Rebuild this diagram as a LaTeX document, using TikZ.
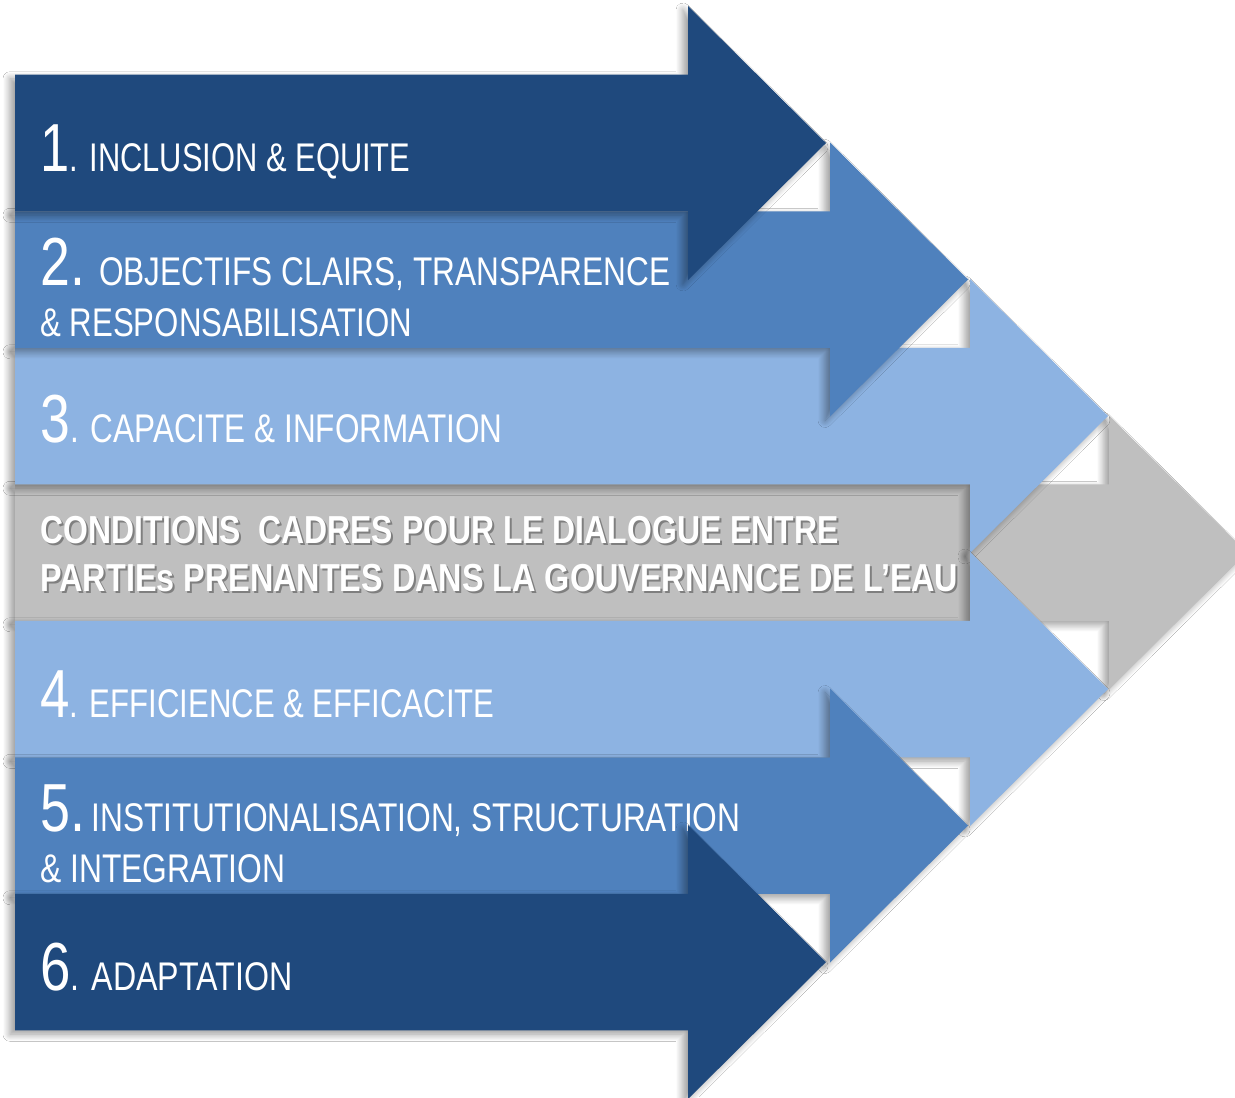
\documentclass[tikz,border=0pt]{standalone}
\usepackage{fontspec}
\usepackage{graphicx}
\setmainfont{Liberation Sans}
\usetikzlibrary{shadows.blur}
\definecolor{dblue}{HTML}{1F497D}
\definecolor{mblue}{HTML}{4F81BD}
\definecolor{lblue}{HTML}{8DB3E2}
\definecolor{gbox}{HTML}{BFBFBF}
\newsavebox\fitbox
\newcommand\fitw[2]{\sbox\fitbox{#2}\pgfmathsetmacro\fitr{#1/\the\wd\fitbox}\scalebox{\fitr}[1]{\usebox\fitbox}}
\newcommand\smf{\fontsize{20}{24}\selectfont}
\newcommand\bgf{\fontsize{34}{40}\selectfont}
\newcommand\gbf{\fontsize{19.5}{23}\selectfont\bfseries}
\newcommand\arrowshape[3]{%
  \fill[arrowbox=#1] (15,#2-68.25) -- (#3,#2-68.25) -- (#3,#2-137) -- (#3+138,#2) -- (#3,#2+137) -- (#3,#2+68.25) -- (15,#2+68.25) -- cycle;}
\begin{document}
\begin{tikzpicture}[x=0.5pt,y=-0.5pt,
  arrowbox/.style={fill=#1, blur shadow={shadow xshift=-2.5pt, shadow yshift=-2pt, shadow blur radius=3.5pt, shadow blur steps=12, shadow opacity=40}},
  lbl/.style={anchor=base west, inner sep=0pt, text=white, font=\smf},
  glbl/.style={anchor=base west, inner sep=0pt, text=white, font=\gbf},
  gshadow/.style={anchor=base west, inner sep=0pt, text=black!70, opacity=0.55, font=\gbf}]
\clip (0,0) rectangle (1235,1097);
\fill[white] (0,0) rectangle (1235,1097);
% central grey arrow
\arrowshape{gbox}{552.5}{1109}
\node[gshadow] (g1s) at (42,545.5) {\fitw{399pt}{CONDITIONS\ \ CADRES POUR LE DIALOGUE ENTRE}};
\node[glbl] (g1) at (40,543) {\fitw{399pt}{CONDITIONS\ \ CADRES POUR LE DIALOGUE ENTRE}};
\node[gshadow] (g2s) at (42,593.5) {\fitw{459pt}{PARTIEs PRENANTES DANS LA GOUVERNANCE DE L’EAU}};
\node[glbl] (g2) at (40,591) {\fitw{459pt}{PARTIEs PRENANTES DANS LA GOUVERNANCE DE L’EAU}};
% arrows 3 and 4
\arrowshape{lblue}{416}{970}
\node[lbl] (t3) at (40,442) {\fitw{231pt}{{\bgf 3}. CAPACITE \& INFORMATION}};
\arrowshape{lblue}{689}{970}
\node[lbl] (t4) at (40,717) {\fitw{227pt}{{\bgf 4}. EFFICIENCE \& EFFICACITE}};
% arrows 2 and 5
\arrowshape{mblue}{279.5}{830}
\node[lbl] (t2a) at (40,285) {\fitw{315pt}{{\bgf 2.}\hspace{9pt}OBJECTIFS CLAIRS, TRANSPARENCE}};
\node[lbl] (t2b) at (40,336) {\fitw{186pt}{\& RESPONSABILISATION}};
\arrowshape{mblue}{825.5}{830}
\node[lbl] (t5a) at (40,831) {\fitw{350pt}{{\bgf 5.}\hspace{4pt}INSTITUTIONALISATION, STRUCTURATION}};
\node[lbl] (t5b) at (40,882) {\fitw{122.5pt}{\& INTEGRATION}};
% arrows 1 and 6
\arrowshape{dblue}{143}{688}
\node[lbl] (t1) at (40,171) {\fitw{185pt}{{\bgf 1}. INCLUSION \& EQUITE}};
\arrowshape{dblue}{962}{688}
\node[lbl] (t6) at (40,990) {\fitw{126pt}{{\bgf 6}. ADAPTATION}};
\end{tikzpicture}
\end{document}
